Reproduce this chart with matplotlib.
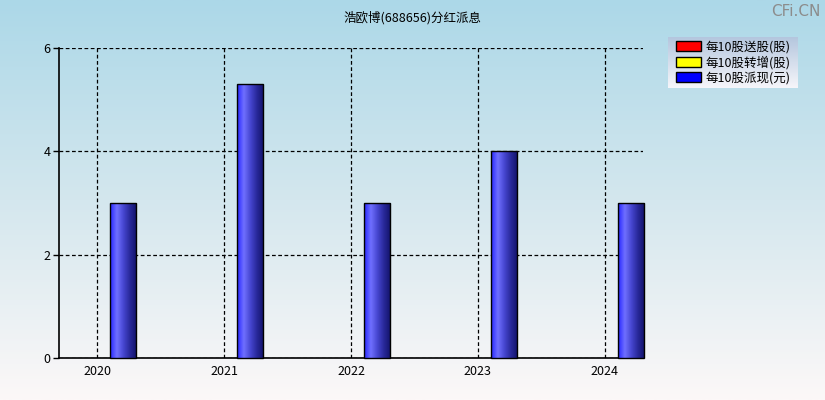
import numpy as np
import matplotlib
matplotlib.use('Agg')
import matplotlib.pyplot as plt
from matplotlib.patches import Patch
from matplotlib.colors import LinearSegmentedColormap

plt.rcParams['font.family'] = ['Noto Sans CJK SC', 'DejaVu Sans']

years = ['2020', '2021', '2022', '2023', '2024']
cash_per_10 = [3.0, 5.3, 3.0, 4.0, 3.0]
legend_labels = ['每10股送股(股)', '每10股转增(股)', '每10股派现(元)']
legend_colors = ['#ff0000', '#ffff00', '#0000ff']
title = '浩欧博(688656)分红派息'

fig = plt.figure(figsize=(8.25, 4), dpi=100)

# background gradient
bg = fig.add_axes([0, 0, 1, 1], zorder=-10)
grad = np.linspace(0, 1, 256).reshape(-1, 1)
bg_cmap = LinearSegmentedColormap.from_list('bg', ['#acd8e8', '#d4e7ee', '#fcf8f8'])
bg.imshow(grad, aspect='auto', cmap=bg_cmap, extent=(0, 1, 0, 1), origin='upper')
bg.set_axis_off()

ax = fig.add_axes([59 / 825, 42 / 400, 584 / 825, 310 / 400])
ax.patch.set_alpha(0)

x = np.arange(len(years))
bar_cmap = LinearSegmentedColormap.from_list(
    'bar', ['#2626ff', '#7070ff', '#4646d0', '#282898', '#12126a'])
hgrad = np.linspace(0, 1, 64).reshape(1, -1)
bw = 0.21
for xi, v in zip(x, cash_per_10):
    x0 = xi + 0.1
    ax.imshow(hgrad, aspect='auto', cmap=bar_cmap,
              extent=(x0, x0 + bw, 0, v), zorder=3, clip_on=False)
bars = ax.bar(x + 0.1, cash_per_10, width=bw, align='edge',
              facecolor='none', edgecolor='black', linewidth=1.0, zorder=4,
              clip_on=False)

ax.set_xlim(-0.3, 4.3)
ax.set_ylim(0, 6)
ax.set_xticks(x)
ax.set_xticklabels(years)
ax.set_yticks([0, 2, 4, 6])
ax.set_aspect('auto')

ax.grid(True, color='black', linestyle=(0, (3, 2)), linewidth=0.9, zorder=1)
ax.spines['top'].set_visible(False)
ax.spines['right'].set_visible(False)
ax.spines['left'].set_linewidth(1.2)
ax.spines['bottom'].set_linewidth(1.2)
ax.tick_params(axis='y', length=4, width=1, labelsize=9, pad=2)
ax.tick_params(axis='x', length=0, labelsize=9, pad=5)

fig.text(0.5, 1 - 18 / 400, title, ha='center', va='center', fontsize=9)
fig.text(1 - 4 / 825, 1 - 11 / 400, 'CFi.CN', ha='right', va='center',
         fontsize=11, color='#8c8c8c', family=['DejaVu Sans'])

# legend box with gradient
lax = fig.add_axes([668 / 825, 1 - 88 / 400, 130 / 825, 51 / 400])
leg_cmap = LinearSegmentedColormap.from_list('leg', ['#b4c6de', '#f6f6fa'])
lax.imshow(grad, aspect='auto', cmap=leg_cmap, extent=(0, 1, 0, 1), origin='upper')
lax.set_axis_off()
handles = [Patch(facecolor=c, edgecolor='black', linewidth=1) for c in legend_colors]
lax.legend(handles, legend_labels, loc='center', frameon=False, fontsize=9,
           handlelength=2.0, handleheight=0.85, handletextpad=0.4,
           labelspacing=0.15, borderpad=0.2)

fig.savefig('out.png', dpi=100)
